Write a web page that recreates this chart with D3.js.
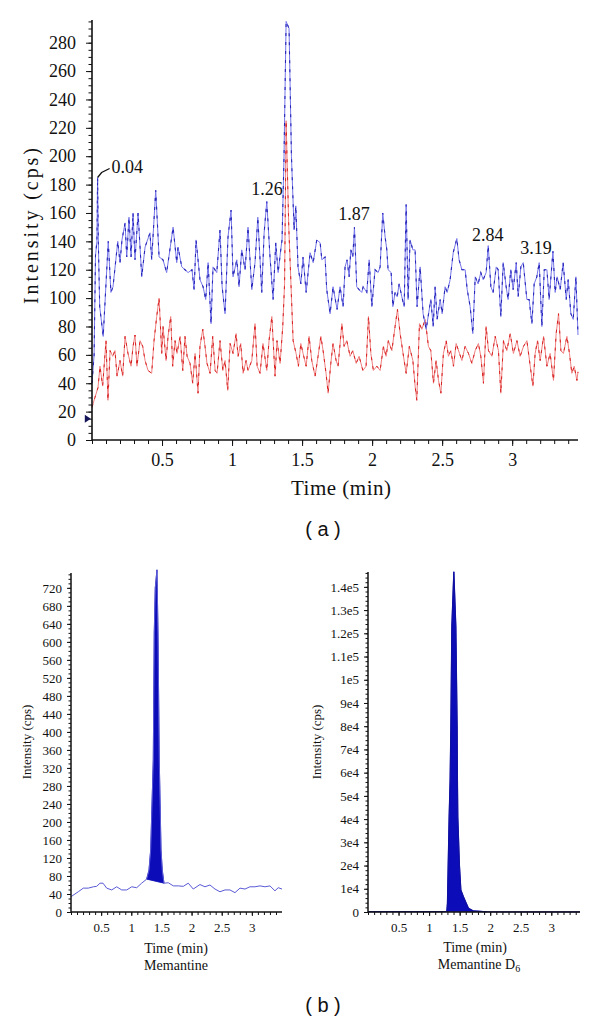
<!DOCTYPE html>
<html><head><meta charset="utf-8">
<script src="https://cdn.jsdelivr.net/npm/d3@7"></script>
<style>
body{margin:0;background:#fff;}
svg{display:block;}
text{font-family:"Liberation Serif","Times New Roman",serif;fill:#111;}
</style></head>
<body><svg id="c" width="600" height="1024"></svg>
<script>
// ---------- DATA ----------
// (a) blank plasma chromatogram
const blueTime=[0,0.015,0.025,0.035,0.040,0.045,0.055,0.080,0.116,0.135,0.150,0.184,0.200,0.214,0.236,0.248,0.264,0.279,0.293,0.307,0.329,0.355,0.379,0.414,0.426,0.455,0.479,0.507,0.533,0.579,0.605,0.614,0.641,0.664,0.686,0.714,0.729,0.743,0.771,0.793,0.812,0.829,0.850,0.864,0.891,0.914,0.929,0.950,0.971,0.993,1.007,1.034,1.050,1.069,1.093,1.114,1.141,1.164,1.184,1.212,1.229,1.248,1.271,1.293,1.312,1.329,1.350,1.357,1.371,1.386,1.407,1.424,1.443,1.455,1.471,1.491,1.507,1.529,1.557,1.579,1.605,1.629,1.641,1.664,1.676,1.700,1.721,1.750,1.771,1.793,1.807,1.821,1.836,1.848,1.862,1.874,1.890,1.907,1.926,1.936,1.962,1.979,1.998,2.021,2.043,2.057,2.076,2.093,2.105,2.114,2.136,2.148,2.164,2.179,2.193,2.212,2.229,2.243,2.257,2.271,2.291,2.307,2.321,2.343,2.364,2.386,2.400,2.419,2.436,2.450,2.464,2.486,2.500,2.521,2.536,2.557,2.579,2.605,2.621,2.641,2.664,2.679,2.700,2.719,2.736,2.757,2.776,2.793,2.814,2.829,2.848,2.864,2.886,2.900,2.919,2.936,2.957,2.971,2.990,3.007,3.029,3.043,3.062,3.079,3.105,3.121,3.141,3.157,3.176,3.193,3.212,3.229,3.248,3.264,3.291,3.307,3.321,3.343,3.364,3.386,3.400,3.419,3.436,3.455,3.470];
const blueIntensity=[40,60,130,140,185,140,94,73,140,104,108,140,125,141,153,129,157,129,160,127,160,115,136,146,127,176,129,127,118,150,125,136,122,120,118,120,106,141,113,108,99,125,82,122,118,148,108,89,143,162,115,127,108,134,120,150,106,125,157,104,146,168,129,99,139,118,136,141,200,295,290,200,148,165,122,110,129,104,132,125,141,139,127,129,106,89,108,92,108,94,122,127,115,134,129,150,108,106,104,108,104,127,94,120,118,122,160,143,134,120,118,94,104,101,110,101,94,166,99,141,134,134,94,122,89,78,87,99,80,108,85,99,89,108,104,113,132,142,127,120,120,106,94,75,115,110,118,113,118,137,108,104,122,120,87,125,108,99,120,106,125,101,122,125,99,99,82,110,115,125,80,120,120,99,133,104,115,106,125,99,113,89,85,115,74];
const redTime=[0,0.021,0.043,0.057,0.076,0.100,0.114,0.129,0.148,0.164,0.179,0.200,0.219,0.236,0.257,0.279,0.293,0.307,0.321,0.343,0.362,0.379,0.400,0.426,0.443,0.462,0.479,0.498,0.507,0.529,0.543,0.562,0.576,0.593,0.607,0.629,0.648,0.664,0.679,0.700,0.719,0.736,0.757,0.771,0.791,0.807,0.821,0.843,0.862,0.879,0.893,0.914,0.934,0.950,0.969,0.986,1.007,1.029,1.043,1.062,1.079,1.100,1.114,1.141,1.164,1.179,1.200,1.221,1.248,1.264,1.284,1.307,1.321,1.343,1.362,1.375,1.386,1.405,1.436,1.457,1.474,1.491,1.507,1.529,1.550,1.569,1.593,1.614,1.634,1.650,1.671,1.686,1.705,1.721,1.743,1.757,1.784,1.800,1.819,1.843,1.862,1.886,1.907,1.934,1.957,1.974,1.991,2.009,2.034,2.057,2.081,2.100,2.116,2.141,2.164,2.181,2.200,2.224,2.243,2.266,2.291,2.307,2.319,2.338,2.355,2.379,2.402,2.419,2.438,2.457,2.474,2.491,2.509,2.529,2.545,2.562,2.581,2.600,2.624,2.641,2.664,2.688,2.712,2.736,2.759,2.776,2.795,2.814,2.831,2.855,2.879,2.902,2.919,2.938,2.962,2.986,3.009,3.034,3.057,3.081,3.105,3.129,3.148,3.164,3.181,3.200,3.224,3.248,3.271,3.295,3.314,3.331,3.348,3.366,3.391,3.409,3.426,3.443,3.462,3.470];
const redIntensity=[23,30,37,52,38,70,28,63,59,63,45,56,45,73,61,52,66,74,52,70,66,56,49,47,70,87,100,61,80,56,73,87,52,70,61,73,49,73,59,54,40,61,33,66,78,66,54,47,73,49,47,70,49,56,35,68,61,75,59,68,47,56,49,56,82,52,47,68,49,70,87,45,70,54,80,110,225,150,70,61,52,68,61,52,73,56,45,59,73,63,47,33,54,68,56,52,82,66,70,59,63,54,59,49,52,87,61,49,52,49,66,59,70,63,80,92,75,59,47,66,56,38,28,82,78,85,66,63,40,56,42,33,61,70,59,63,52,68,61,56,66,61,54,63,68,59,40,80,63,59,73,63,33,70,63,75,61,70,59,66,70,52,38,61,70,56,73,52,61,42,75,89,63,61,73,61,47,52,42,48];
const topMarker=[{t:-0.03,v:15}];
const peakLabels=[{text:"1.26",t:1.25,v:173},{text:"1.87",t:1.871,v:155},{text:"2.84",t:2.825,v:140},{text:"3.19",t:3.17,v:131}];
const leaderLabel={text:"0.04",t:0.04,v:185};
const topXTicks=[0.5,1,1.5,2,2.5,3];
const topYTicks=d3.range(0,281,20);

// (b) left: Memantine
const memTime=[0,0.121,0.204,0.287,0.370,0.426,0.481,0.531,0.592,0.675,0.758,0.841,0.924,1.007,1.090,1.172,1.255,1.294,1.322,1.365,1.381,1.398,1.426,1.431,1.443,1.464,1.493,1.514,1.542,1.614,1.697,1.779,1.862,1.945,2.028,2.139,2.222,2.305,2.388,2.471,2.554,2.637,2.720,2.803,2.886,2.968,3.051,3.134,3.217,3.300,3.383,3.438,3.500];
const memIntensity=[34,45,53,53,56,57,64,64,53,49,56,49,49,56,54,64,73,93,138,338,620,720,760,720,620,338,138,93,64,65,58,58,57,64,51,61,56,60,51,45,49,49,43,53,51,56,56,58,56,58,47,54,51];
const memPeakStart=1.255, memPeakEnd=1.542;
const memYTicks=d3.range(0,721,40);

// (b) right: Memantine D6
const d6Time=[0,0.5,1.0,1.200,1.290,1.300,1.328,1.344,1.356,1.372,1.405,1.438,1.459,1.464,1.470,1.497,1.520,1.562,1.644,1.721,1.946,2.2,2.6,3.0,3.470];
const d6Intensity=[150,150,150,150,200,3700,41000,56900,79700,122800,146500,122800,79700,56900,41000,20000,9500,6600,1600,500,100,60,60,60,60];
const d6PeakStart=1.290, d6PeakEnd=1.946;
const d6YTicks=d3.range(0,140001,10000);
const bottomXTicks=[0.5,1,1.5,2,2.5,3];

// ---------- DRAW ----------
const SERIF="'Liberation Serif','Times New Roman',serif";
const svg=d3.select("#c");
svg.append("rect").attr("width",600).attr("height",1024).attr("fill","#fff");

function styleAxis(g,size){
  g.attr("font-family",SERIF);
  g.selectAll("text").style("font-size",size+"px").style("font-family",SERIF).attr("fill","#111");
  g.selectAll("line").attr("stroke","#111");
}
function minorAxis(g,axisFn,scale,vals,size){
  g.call(axisFn(scale).tickValues(vals).tickSize(size).tickFormat(""));
  g.select(".domain").remove();
  g.selectAll("line").attr("stroke","#111").attr("stroke-width",1);
}

// ===== (a) =====
const xA=d3.scaleLinear().domain([0,3.47]).range([92,578]);
const yA=d3.scaleLinear().domain([0,296]).range([440,20]);
const gA=svg.append("g");

const lineBlue=d3.line().x((d,i)=>xA(blueTime[i])).y(d=>yA(d));
const lineRed=d3.line().x((d,i)=>xA(redTime[i])).y(d=>yA(d));
gA.append("path").attr("d",lineRed(redIntensity)).attr("fill","none").attr("stroke","#f08080").attr("stroke-width",1);
gA.append("path").attr("d",lineRed(redIntensity)).attr("fill","none").attr("stroke","#d82020").attr("stroke-width",1).attr("stroke-dasharray","3 6");
gA.append("path").attr("d",lineBlue(blueIntensity)).attr("fill","none").attr("stroke","#7676ea").attr("stroke-width",1);
gA.append("path").attr("d",lineBlue(blueIntensity)).attr("fill","none").attr("stroke","#2828b8").attr("stroke-width",1.1).attr("stroke-dasharray","3 6");

// axes
const gAy=gA.append("g").attr("transform","translate(92,0)");
gAy.call(d3.axisLeft(yA).tickValues(topYTicks).tickSize(6).tickPadding(10).tickFormat(d3.format("d")));
styleAxis(gAy,18);
gAy.select(".domain").attr("stroke","#111").attr("stroke-width",1.6).attr("d","M0,"+yA(296)+"V"+yA(0));
minorAxis(gA.append("g").attr("transform","translate(92,0)"),d3.axisLeft,yA,d3.range(0,296,5),3.5);

const gAx=gA.append("g").attr("transform","translate(0,440)");
gAx.call(d3.axisBottom(xA).tickValues(topXTicks).tickSize(6).tickPadding(7).tickFormat(d=>String(d)));
styleAxis(gAx,18);
gAx.select(".domain").attr("stroke","#111").attr("stroke-width",1.6).attr("d","M"+xA(0)+",0H"+xA(3.47));
minorAxis(gA.append("g").attr("transform","translate(0,440)"),d3.axisBottom,xA,d3.range(0,3.47,0.1),4);

// marker
gA.selectAll(".mk").data(topMarker).enter().append("path")
  .attr("d",d=>{const x=xA(d.t),y=yA(d.v);return `M${x-3},${y-4}L${x+3},${y}L${x-3},${y+4}Z`;})
  .attr("fill","#15155a");

// labels
gA.append("text").attr("transform","translate(38,226) rotate(-90)").attr("text-anchor","middle")
  .style("font-size","20px").attr("textLength",156).attr("lengthAdjust","spacing").text("Intensity (cps)");
gA.append("text").attr("x",341).attr("y",495).attr("text-anchor","middle").style("font-size","21px")
  .attr("textLength",100).attr("lengthAdjust","spacing").text("Time (min)");
gA.selectAll(".pl").data(peakLabels).enter().append("text")
  .attr("x",d=>xA(d.t)).attr("y",d=>yA(d.v)).attr("text-anchor","middle").style("font-size","18px").text(d=>d.text);
gA.append("path").attr("d",`M${xA(leaderLabel.t)},${yA(leaderLabel.v)}L${xA(leaderLabel.t)+4},${yA(leaderLabel.v)-5}L${xA(leaderLabel.t)+12},${yA(leaderLabel.v)-9}`)
  .attr("fill","none").attr("stroke","#111").attr("stroke-width",1.3);
gA.append("text").attr("x",xA(leaderLabel.t)+14).attr("y",yA(leaderLabel.v)-5).style("font-size","18px").text(leaderLabel.text);

svg.append("text").attr("x",323).attr("y",536).attr("text-anchor","middle")
  .style("font-family","'Liberation Sans',Arial,sans-serif").style("font-size","20px").text("( a )");

// ===== (b) left =====
const xL=d3.scaleLinear().domain([0,3.5]).range([71,282]);
const yL=d3.scaleLinear().domain([0,753]).range([912,573]);
const gL=svg.append("g");
const peakIdxL=memTime.map((t,i)=>i).filter(i=>memTime[i]>=memPeakStart&&memTime[i]<=memPeakEnd);
const peakLine=d3.line().x(i=>xL(memTime[i])).y(i=>yL(memIntensity[i]));
gL.append("path").attr("d",peakLine(peakIdxL)+"Z").attr("fill","#0c0cb8").attr("stroke","#0c0cb8").attr("stroke-width",0.8);
gL.append("path").attr("d",d3.line().x((d,i)=>xL(memTime[i])).y(d=>yL(d))(memIntensity))
  .attr("fill","none").attr("stroke","#5a5ad6").attr("stroke-width",1);

const gLy=gL.append("g").attr("transform","translate(71,0)");
gLy.call(d3.axisLeft(yL).tickValues(memYTicks).tickSize(4).tickPadding(5).tickFormat(d3.format("d")));
styleAxis(gLy,13);
gLy.select(".domain").attr("stroke","#111").attr("stroke-width",1.5).attr("d","M0,"+yL(753)+"V"+yL(0));
minorAxis(gL.append("g").attr("transform","translate(71,0)"),d3.axisLeft,yL,d3.range(0,753,10),2.5);
const gLx=gL.append("g").attr("transform","translate(0,912)");
gLx.call(d3.axisBottom(xL).tickValues(bottomXTicks).tickSize(4).tickPadding(7).tickFormat(d=>String(d)));
styleAxis(gLx,13);
gLx.select(".domain").attr("stroke","#111").attr("stroke-width",1.5).attr("d","M"+xL(0)+",0H"+xL(3.5));
minorAxis(gL.append("g").attr("transform","translate(0,912)"),d3.axisBottom,xL,d3.range(0,3.5,0.1),3);
gL.append("text").attr("transform","translate(31,742) rotate(-90)").attr("text-anchor","middle").style("font-size","13px").text("Intensity (cps)");
gL.append("text").attr("x",176).attr("y",953).attr("text-anchor","middle").style("font-size","14px").text("Time (min)");
gL.append("text").attr("x",176).attr("y",970).attr("text-anchor","middle").style("font-size","14px").text("Memantine");

// ===== (b) right =====
const xR=d3.scaleLinear().domain([0,3.47]).range([368,580]);
const yR=d3.scaleLinear().domain([0,146400]).range([912,572]);
const gR=svg.append("g");
const peakIdxR=d6Time.map((t,i)=>i).filter(i=>d6Time[i]>=d6PeakStart&&d6Time[i]<=d6PeakEnd);
gR.append("path").attr("d",d3.line().x(i=>xR(d6Time[i])).y(i=>yR(d6Intensity[i]))(peakIdxR)+"Z")
  .attr("fill","#0c0cb8").attr("stroke","#0c0cb8").attr("stroke-width",0.8);
gR.append("path").attr("d",d3.line().x((d,i)=>xR(d6Time[i])).y(d=>yR(d))(d6Intensity))
  .attr("fill","none").attr("stroke","#1010a0").attr("stroke-width",1.2);
const fmtE=d=>{if(d===0)return "0";const e=Math.floor(Math.log10(d));const m=d/Math.pow(10,e);return (Math.round(m*10)/10)+"e"+e;};
const gRy=gR.append("g").attr("transform","translate(368,0)");
gRy.call(d3.axisLeft(yR).tickValues(d6YTicks).tickSize(4).tickPadding(5).tickFormat(fmtE));
styleAxis(gRy,13);
gRy.select(".domain").attr("stroke","#111").attr("stroke-width",1.5).attr("d","M0,"+yR(146400)+"V"+yR(0));
minorAxis(gR.append("g").attr("transform","translate(368,0)"),d3.axisLeft,yR,d3.range(0,146400,2000),2.5);
const gRx=gR.append("g").attr("transform","translate(0,912)");
gRx.call(d3.axisBottom(xR).tickValues(bottomXTicks).tickSize(4).tickPadding(7).tickFormat(d=>String(d)));
styleAxis(gRx,13);
gRx.select(".domain").attr("stroke","#111").attr("stroke-width",1.5).attr("d","M"+xR(0)+",0H"+xR(3.47));
minorAxis(gR.append("g").attr("transform","translate(0,912)"),d3.axisBottom,xR,d3.range(0,3.47,0.1),3);
gR.append("text").attr("transform","translate(321,742) rotate(-90)").attr("text-anchor","middle").style("font-size","13px").text("Intensity (cps)");
gR.append("text").attr("x",475).attr("y",952).attr("text-anchor","middle").style("font-size","14px").text("Time (min)");
const mt=gR.append("text").attr("x",479).attr("y",969).attr("text-anchor","middle").style("font-size","14px");
mt.append("tspan").text("Memantine D");
mt.append("tspan").attr("dy",3).style("font-size","10px").text("6");

svg.append("text").attr("x",323).attr("y",1012).attr("text-anchor","middle")
  .style("font-family","'Liberation Sans',Arial,sans-serif").style("font-size","20px").text("( b )");
</script></body></html>
